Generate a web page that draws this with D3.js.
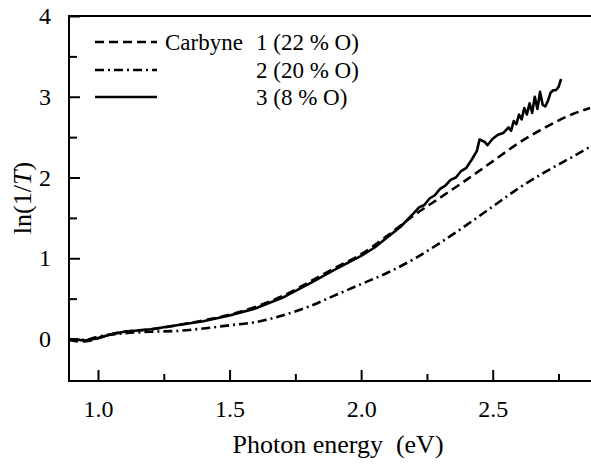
<html>
<head>
  <style>
    body { margin: 0; background: #fff; }
  </style>
  <script src="https://d3js.org/d3.v7.min.js"></script>
</head>
<body>
  <div id="chart"></div>
  <script>
    // ---- data ----
    // curve 1: Carbyne 1 (22 % O), dashed
    const energy1 = [0.89, 0.93, 0.97, 1.0, 1.05, 1.1, 1.2, 1.3, 1.4, 1.5, 1.6, 1.7, 1.8, 1.9, 2.0, 2.1, 2.2, 2.3, 2.4, 2.5, 2.6, 2.7, 2.8, 2.87];
    const lnT1 = [-0.01, -0.03, -0.02, 0.01, 0.06, 0.09, 0.12, 0.17, 0.23, 0.30, 0.40, 0.53, 0.70, 0.88, 1.05, 1.28, 1.53, 1.75, 1.97, 2.20, 2.43, 2.62, 2.78, 2.86];

    // curve 2: 2 (20 % O), dash-dot
    const energy2 = [0.89, 0.95, 1.0, 1.1, 1.2, 1.3, 1.4, 1.5, 1.6, 1.7, 1.8, 1.9, 2.0, 2.1, 2.2, 2.3, 2.4, 2.5, 2.6, 2.7, 2.8, 2.87];
    const lnT2 = [0.0, -0.01, 0.03, 0.07, 0.09, 0.10, 0.13, 0.17, 0.21, 0.29, 0.40, 0.54, 0.68, 0.82, 0.99, 1.19, 1.41, 1.64, 1.87, 2.07, 2.25, 2.38];

    // curve 3: 3 (8 % O), solid, noisy at high energy
    const energy3 = [0.89, 0.92, 0.95, 1.0, 1.05, 1.1, 1.2, 1.3, 1.4, 1.5, 1.6, 1.7, 1.8, 1.9, 2.0, 2.05, 2.1, 2.15, 2.2, 2.22, 2.24, 2.26, 2.28, 2.3, 2.32, 2.34, 2.36, 2.38, 2.4, 2.42, 2.44, 2.45, 2.47, 2.48, 2.5, 2.52, 2.54, 2.56, 2.57, 2.58, 2.59, 2.6, 2.61, 2.62, 2.63, 2.64, 2.65, 2.66, 2.67, 2.68, 2.69, 2.7, 2.71, 2.72, 2.73, 2.74, 2.75, 2.76];
    const lnT3 = [-0.01, -0.01, -0.02, 0.01, 0.06, 0.09, 0.12, 0.17, 0.22, 0.29, 0.38, 0.51, 0.68, 0.86, 1.03, 1.13, 1.26, 1.39, 1.56, 1.63, 1.66, 1.74, 1.78, 1.86, 1.90, 1.97, 2.00, 2.08, 2.12, 2.22, 2.33, 2.47, 2.44, 2.40, 2.48, 2.53, 2.55, 2.62, 2.58, 2.70, 2.66, 2.78, 2.72, 2.86, 2.78, 2.92, 2.80, 3.00, 2.85, 3.06, 2.90, 2.88, 2.95, 3.05, 3.08, 3.08, 3.12, 3.22];

    const yTicks = [0, 1, 2, 3, 4];
    const yMinor = [0.5, 1.5, 2.5, 3.5];
    const xTicks = [1.0, 1.5, 2.0, 2.5];
    const xMinor = [1.25, 1.75, 2.25, 2.75];

    const legendLabels = ["1 (22 % O)", "2 (20 % O)", "3 (8 % O)"];

    // ---- layout ----
    const W = 591, H = 464;
    const plotL = 69, plotR = 591, plotT = 16, plotB = 381;
    const serif = "'Liberation Serif', 'Times New Roman', Times, 'DejaVu Serif', serif";

    const svg = d3.select("#chart").append("svg")
      .attr("width", W)
      .attr("height", H);

    const x = d3.scaleLinear().domain([1.0, 2.5]).range([98, 492.7]);
    const y = d3.scaleLinear().domain([0, 4]).range([339, 16]);

    // frame: left, bottom, top
    const frame = svg.append("g").attr("stroke", "#000").attr("stroke-width", 2);
    frame.append("line").attr("x1", plotL).attr("x2", plotL).attr("y1", plotT - 1).attr("y2", plotB + 1);
    frame.append("line").attr("x1", plotL).attr("x2", plotR).attr("y1", plotB).attr("y2", plotB);
    frame.append("line").attr("x1", plotL).attr("x2", plotR).attr("y1", plotT).attr("y2", plotT);

    // y axis (ticks inside)
    const gy = svg.append("g").attr("transform", `translate(${plotL},0)`)
      .call(d3.axisLeft(y).tickValues(yTicks).tickSize(-11).tickPadding(18).tickFormat(d3.format("d")));
    gy.select(".domain").remove();
    gy.selectAll(".tick line").attr("stroke-width", 2);
    gy.selectAll(".tick text").style("font-size", "24px").style("font-family", serif).attr("fill", "#000");
    svg.append("g").attr("transform", `translate(${plotL},0)`)
      .call(d3.axisLeft(y).tickValues(yMinor).tickSize(-8).tickFormat(""))
      .call(g => g.select(".domain").remove())
      .selectAll(".tick line").attr("stroke-width", 2);

    // x axis (ticks inside)
    const gx = svg.append("g").attr("transform", `translate(0,${plotB})`)
      .call(d3.axisBottom(x).tickValues(xTicks).tickSize(-11).tickPadding(19).tickFormat(d3.format(".1f")));
    gx.select(".domain").remove();
    gx.selectAll(".tick line").attr("stroke-width", 2);
    gx.selectAll(".tick text").style("font-size", "24px").style("font-family", serif).attr("fill", "#000");
    svg.append("g").attr("transform", `translate(0,${plotB})`)
      .call(d3.axisBottom(x).tickValues(xMinor).tickSize(-7).tickFormat(""))
      .call(g => g.select(".domain").remove())
      .selectAll(".tick line").attr("stroke-width", 2);

    // axis titles
    svg.append("text")
      .attr("x", 338).attr("y", 453)
      .attr("text-anchor", "middle")
      .style("font-family", serif)
      .style("font-size", "26px")
      .style("white-space", "pre")
      .text("Photon energy  (eV)");

    const yl = svg.append("text")
      .attr("transform", "translate(31,198) rotate(-90)")
      .attr("text-anchor", "middle")
      .style("font-family", serif)
      .style("font-size", "26px");
    yl.append("tspan").text("ln(1/");
    yl.append("tspan").attr("font-style", "italic").text("T");
    yl.append("tspan").text(")");

    // curves
    svg.append("clipPath").attr("id", "plot")
      .append("rect").attr("x", plotL).attr("y", plotT).attr("width", plotR - plotL).attr("height", plotB - plotT);

    const line = d3.line().x(d => x(d[0])).y(d => y(d[1]));
    const smooth = d3.line().x(d => x(d[0])).y(d => y(d[1])).curve(d3.curveMonotoneX);

    const series = [
      { xs: energy2, ys: lnT2, dash: "9,4,2,4", gen: smooth },
      { xs: energy1, ys: lnT1, dash: "9,5", gen: smooth },
      { xs: energy3, ys: lnT3, dash: null, gen: line }
    ];

    series.forEach(s => {
      svg.append("path")
        .datum(d3.zip(s.xs, s.ys))
        .attr("clip-path", "url(#plot)")
        .attr("fill", "none")
        .attr("stroke", "#000")
        .attr("stroke-width", 2.6)
        .attr("stroke-linejoin", "round")
        .attr("stroke-dasharray", s.dash)
        .attr("d", s.gen);
    });

    // legend
    const legendY = [42, 70, 97];
    const legendDash = ["9,5", "9,4,2,4", null];
    legendY.forEach((ly, i) => {
      svg.append("line")
        .attr("x1", 95).attr("x2", 157)
        .attr("y1", ly).attr("y2", ly)
        .attr("stroke", "#000").attr("stroke-width", 2.6)
        .attr("stroke-dasharray", legendDash[i]);
      svg.append("text")
        .attr("x", 256).attr("y", ly + 8)
        .style("font-family", serif)
        .style("font-size", "23px")
        .text(legendLabels[i]);
    });
    svg.append("text")
      .attr("x", 165).attr("y", legendY[0] + 8)
      .style("font-family", serif)
      .style("font-size", "23px")
      .text("Carbyne");
  </script>
</body>
</html>
